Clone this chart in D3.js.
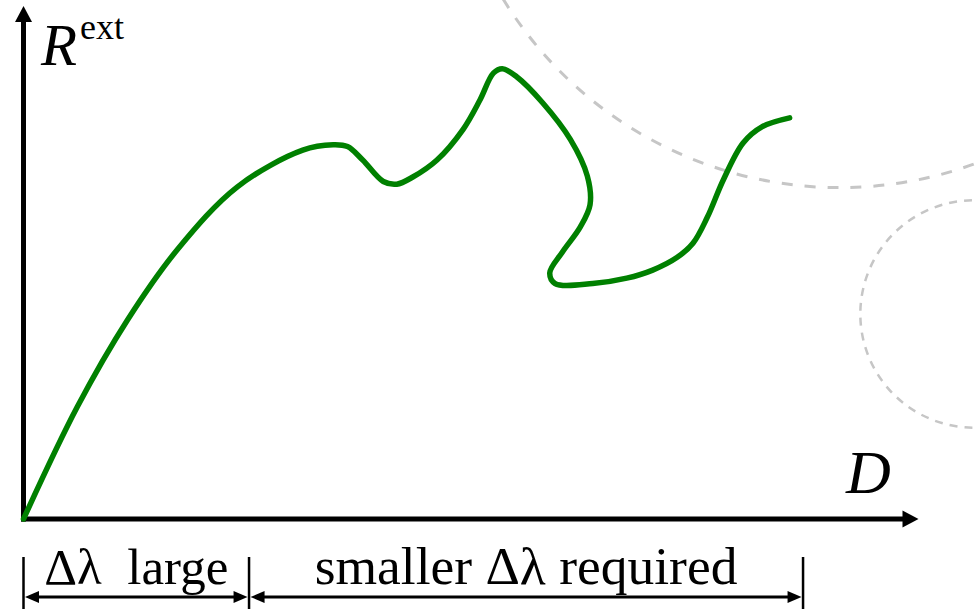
<!DOCTYPE html>
<html>
<head>
<meta charset="utf-8">
<script src="https://cdn.jsdelivr.net/npm/d3@7/dist/d3.min.js"></script>
<style>
  html, body { margin: 0; padding: 0; background: #fff; }
  svg { display: block; }
  text { font-family: "Liberation Serif", "Times New Roman", serif; fill: #000; }
</style>
</head>
<body>
<svg id="chart" width="978" height="609"></svg>
<script>
// Response curve R^ext as a function of D (arbitrary units)
const curveD = [0, 6.0, 11.6, 17.2, 23.9, 31.2, 34.6, 36.2, 37.9, 40.2, 41.7, 43.5, 46.2, 49.1, 51.0, 52.5, 53.5, 55.1, 58.0, 61.1, 63.0, 63.3, 62.2, 60.2, 58.8, 59.4, 63.6, 67.4, 70.3, 73.0, 74.8, 76.4, 78.2, 80.4, 82.5, 85.6];
const curveR = [0, 12.5, 22.2, 30.1, 37.1, 41.2, 41.8, 41.6, 40.1, 37.7, 37.4, 38.2, 40.1, 43.5, 46.8, 49.8, 50.3, 49.4, 46.5, 42.4, 38.3, 35.1, 32.6, 29.8, 27.5, 26.3, 26.3, 26.9, 27.8, 29.2, 30.8, 33.7, 37.9, 42.0, 43.8, 44.8];

// Step-size regions along D
const regionBounds = [0, 25.2, 87.1];
const regionLabels = ["\u0394\u03bb  large", "smaller \u0394\u03bb required"];

// Dashed guide circles: centre (D, R) and radius in D units
const guideCx = [91.2, 106.2];
const guideCy = [81.1, 22.9];
const guideRadius = [44.1, 12.7];

// Axis extents
const axisMaxD = 100;
const axisMaxR = 57.3;

const svg = d3.select("#chart");
const x = d3.scaleLinear().domain([0, 100]).range([23.5, 918.5]);
const y = d3.scaleLinear().domain([0, axisMaxR]).range([519, 6]);
const unit = x(1) - x(0);

// guide circles
const guides = [
  { cx: guideCx[0], cy: guideCy[0], r: guideRadius[0], w: 3, dash: "11 12" },
  { cx: guideCx[1], cy: guideCy[1], r: guideRadius[1], w: 2.5, dash: "8 7" }
];
svg.selectAll("circle.guide").data(guides).enter().append("circle")
  .attr("class", "guide")
  .attr("cx", d => x(d.cx)).attr("cy", d => y(d.cy)).attr("r", d => d.r * unit)
  .attr("fill", "none").attr("stroke", "#c6c6c6")
  .attr("stroke-width", d => d.w).attr("stroke-dasharray", d => d.dash);

// axes with arrowheads
const axisW = 5;
svg.append("line")
  .attr("x1", x(0)).attr("y1", y(0) + axisW / 2)
  .attr("x2", x(0)).attr("y2", y(axisMaxR) + 12)
  .attr("stroke", "#000").attr("stroke-width", axisW);
svg.append("line")
  .attr("x1", x(0) - axisW / 2).attr("y1", y(0))
  .attr("x2", x(axisMaxD) - 12).attr("y2", y(0))
  .attr("stroke", "#000").attr("stroke-width", axisW);
const ah = 16, aw = 8.5;
svg.append("path")
  .attr("d", `M${x(0)},${y(axisMaxR)} L${x(0) + aw},${y(axisMaxR) + ah} L${x(0) - aw},${y(axisMaxR) + ah} Z`)
  .attr("fill", "#000");
svg.append("path")
  .attr("d", `M${x(axisMaxD)},${y(0)} L${x(axisMaxD) - ah},${y(0) - aw} L${x(axisMaxD) - ah},${y(0) + aw} Z`)
  .attr("fill", "#000");

// curve
const pts = curveD.map((d, i) => [d, curveR[i]]);
const line = d3.line().x(d => x(d[0])).y(d => y(d[1])).curve(d3.curveCatmullRom.alpha(0.5));
svg.append("path")
  .attr("d", line(pts))
  .attr("fill", "none").attr("stroke", "#008000")
  .attr("stroke-width", 5.5).attr("stroke-linecap", "round").attr("stroke-linejoin", "round");

// axis labels
const rLab = svg.append("text").attr("x", 41).attr("y", 65).attr("font-size", 59);
rLab.append("tspan").attr("font-style", "italic").text("R");
rLab.append("tspan").attr("font-size", 36).attr("dy", -26).attr("dx", 3).text("ext");
svg.append("text").attr("x", 846).attr("y", 493).attr("font-size", 62)
  .attr("font-style", "italic").text("D");

// dimension lines under the D axis
const dimY = 597, tickTop = 557, tickBot = 609;
svg.selectAll("line.tick").data(regionBounds).enter().append("line")
  .attr("class", "tick")
  .attr("x1", d => x(d)).attr("x2", d => x(d))
  .attr("y1", tickTop).attr("y2", tickBot)
  .attr("stroke", "#000").attr("stroke-width", 2.5);
const segs = regionLabels.map((t, i) => ({ a: regionBounds[i], b: regionBounds[i + 1], label: t, size: i === 0 ? 51 : 53.5 }));
const al = 14, aww = 6;
segs.forEach(s => {
  const xa = x(s.a) + 1.5, xb = x(s.b) - 1.5;
  svg.append("line").attr("x1", xa + al - 1).attr("x2", xb - al + 1)
    .attr("y1", dimY).attr("y2", dimY).attr("stroke", "#000").attr("stroke-width", 3);
  svg.append("path").attr("d", `M${xa},${dimY} L${xa + al},${dimY - aww} L${xa + al},${dimY + aww} Z`).attr("fill", "#000");
  svg.append("path").attr("d", `M${xb},${dimY} L${xb - al},${dimY - aww} L${xb - al},${dimY + aww} Z`).attr("fill", "#000");
  svg.append("text").attr("x", (x(s.a) + x(s.b)) / 2).attr("y", 584)
    .attr("text-anchor", "middle").attr("font-size", s.size)
    .style("white-space", "pre").text(s.label);
});
</script>
</body>
</html>
